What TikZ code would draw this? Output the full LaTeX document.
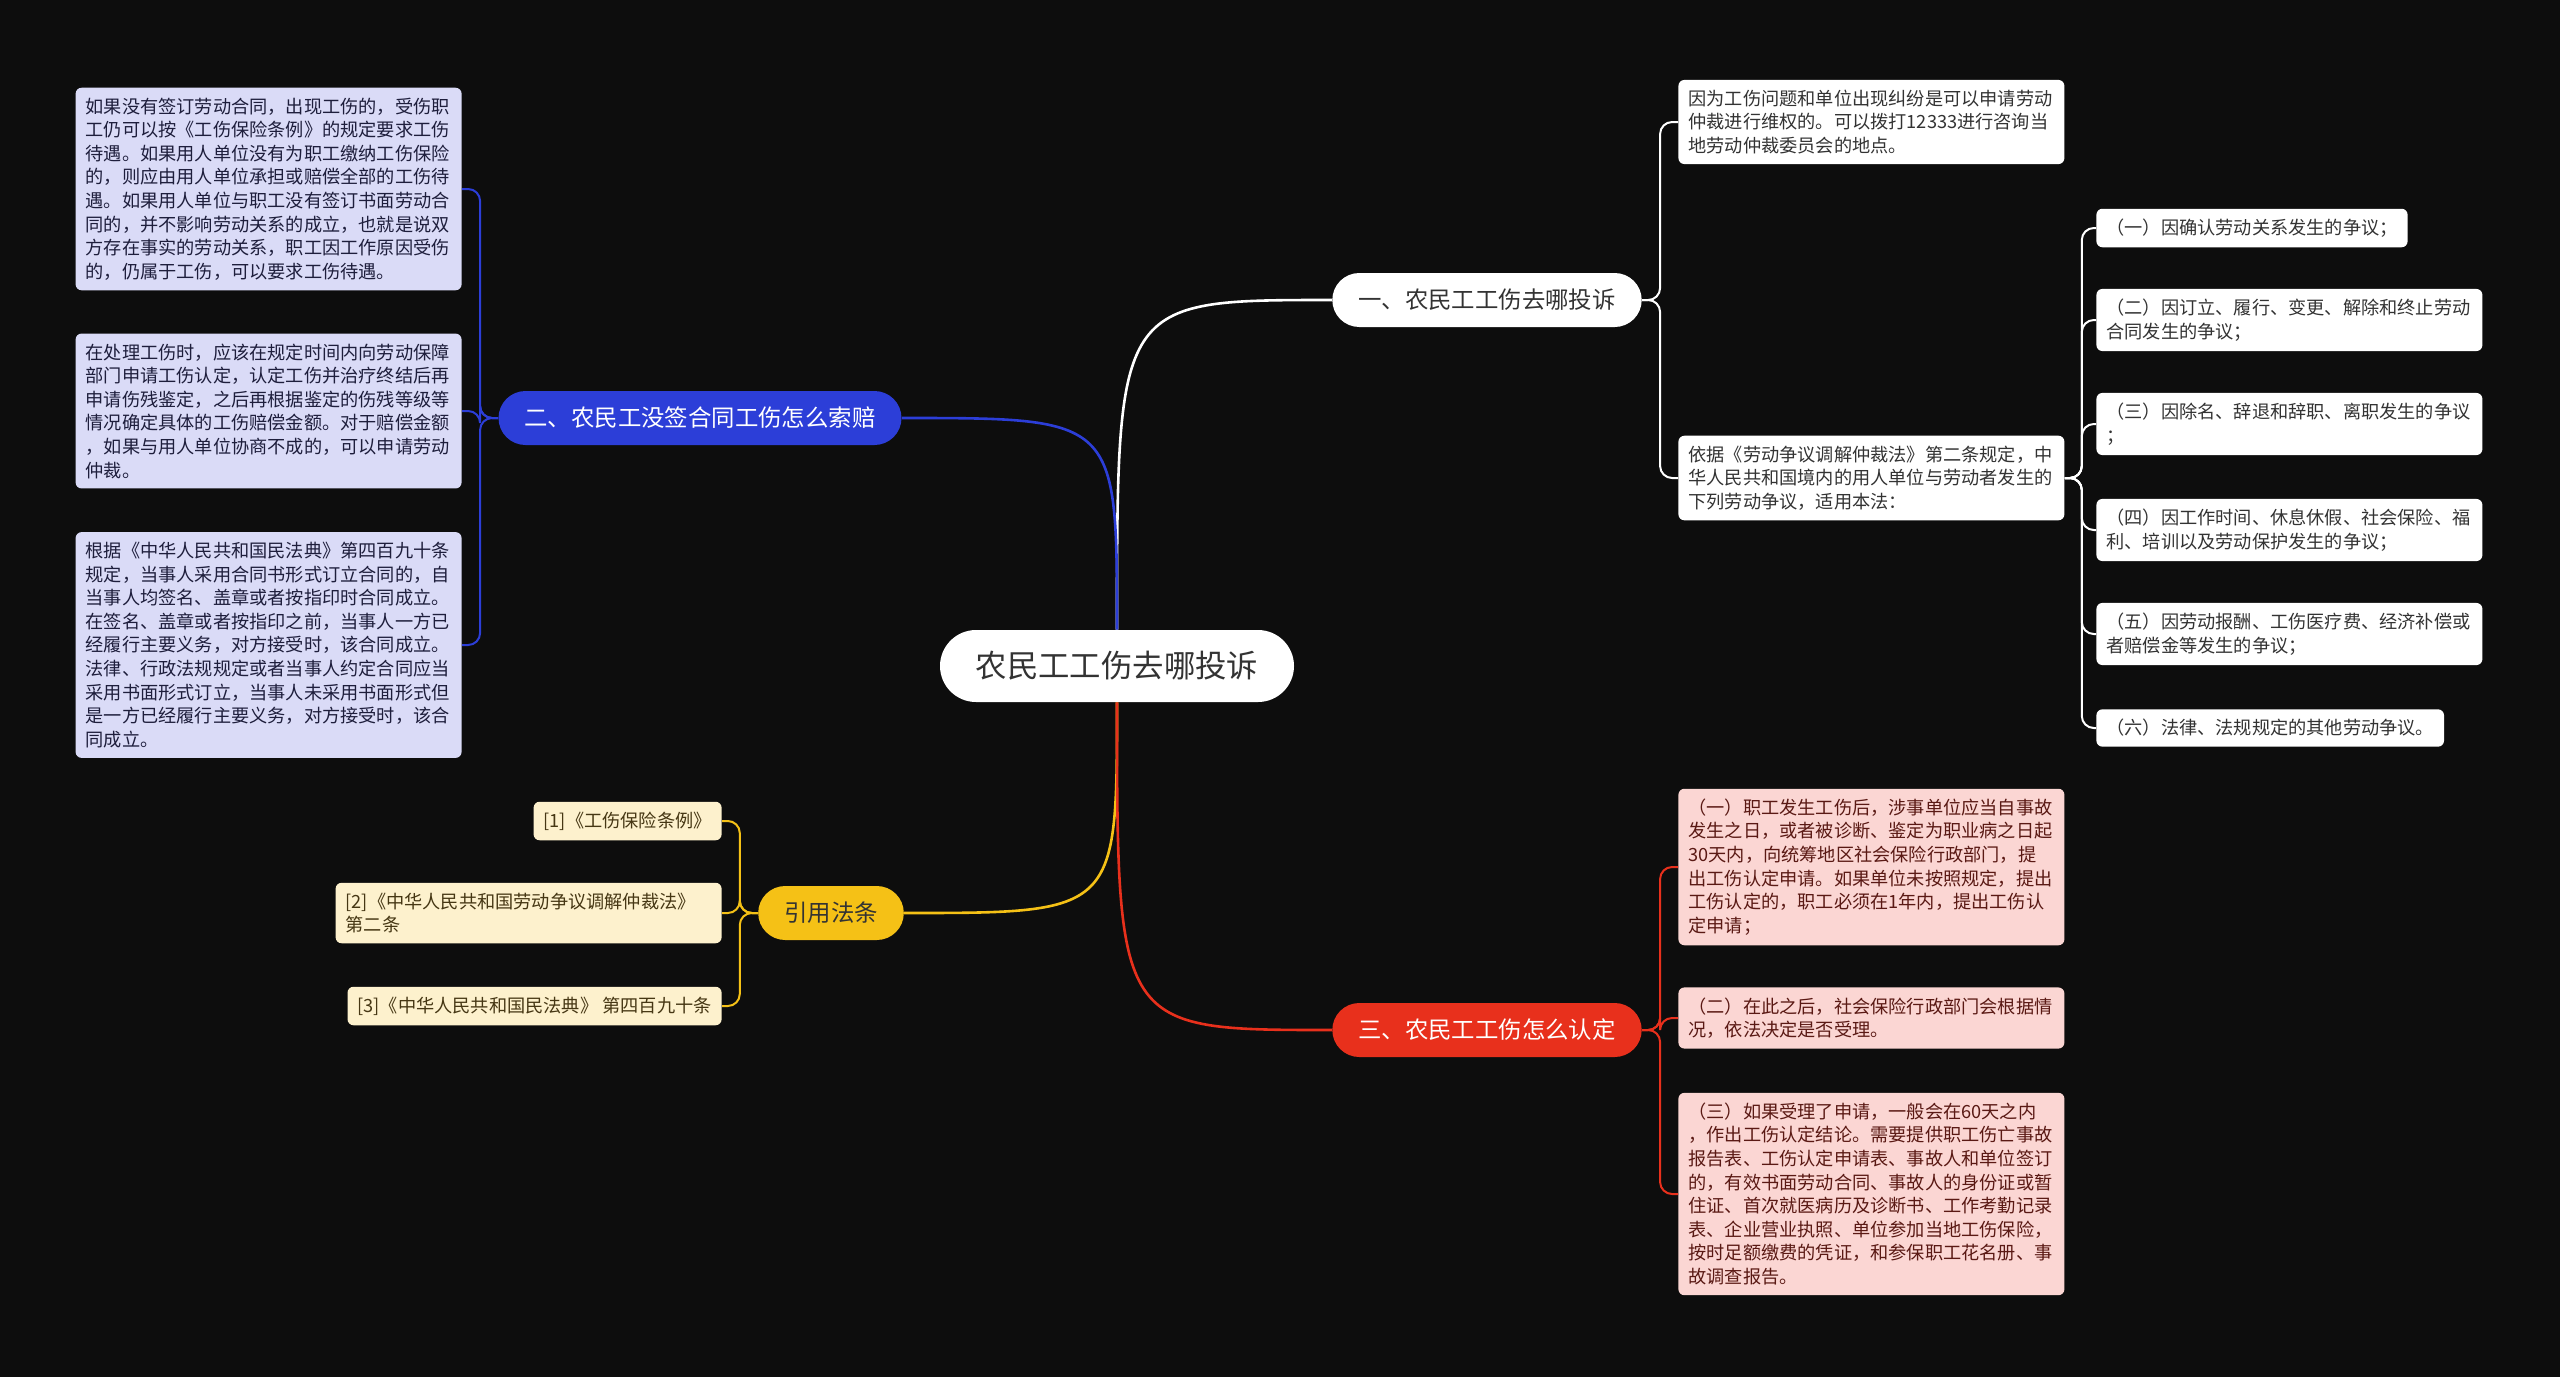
\documentclass[tikz,border=0pt]{standalone}
\usepackage{fontspec}
\setmainfont{Noto Sans CJK SC}
\usetikzlibrary{calc}
\definecolor{night}{RGB}{13,13,13}
\definecolor{royal}{RGB}{44,62,216}
\definecolor{flame}{RGB}{232,48,28}
\definecolor{amber}{RGB}{245,193,22}
\definecolor{lilac}{RGB}{218,219,247}
\definecolor{blush}{RGB}{251,214,211}
\definecolor{cream}{RGB}{253,241,205}
\definecolor{ink}{RGB}{51,51,51}
\definecolor{navyink}{RGB}{30,30,60}
\definecolor{rustink}{RGB}{90,25,20}
\definecolor{brownink}{RGB}{70,55,20}

\begin{document}
\begin{tikzpicture}[x=0.5pt,y=-0.5pt,
    wire/.style={line width=1pt,rounded corners=6pt},
    trunk/.style={line width=1.3pt},
    topic/.style={rounded corners=13.5pt,minimum height=27pt,inner xsep=13pt,inner ysep=0pt,font=\fontsize{11.7}{14}\selectfont},
    leaf/.style={rounded corners=3pt,inner xsep=5pt,inner ysep=5pt,align=left,font=\fontsize{9.1}{11.8}\selectfont},
    wide/.style={text width=183pt},
    snug/.style={}]
    \fill[night] (0,0) rectangle (2560,1377);
    \useasboundingbox (0,0) rectangle (2560,1377);

    % centre and main topics
    \node[fill=white,text=ink,rounded corners=18pt,minimum width=177pt,minimum height=36pt,font=\fontsize{15.7}{18}\selectfont] (root) at (1117,666) {农民工工伤去哪投诉};
    \node[topic,fill=white,text=ink] (b1) at (1487,300) {一、农民工工伤去哪投诉};
    \node[topic,fill=royal,text=white] (b2) at (700,418) {二、农民工没签合同工伤怎么索赔};
    \node[topic,fill=flame,text=white] (b3) at (1487,1030) {三、农民工工伤怎么认定};
    \node[topic,fill=amber,text=ink] (b4) at (831,913) {引用法条};

    \draw[trunk,white] (root.north) .. controls (root.north |- b1.west) .. (b1.west);
    \draw[trunk,royal] (root.north) .. controls (root.north |- b2.east) .. (b2.east);
    \draw[trunk,amber] (root.south) .. controls (root.south |- b4.east) .. (b4.east);
    \draw[trunk,flame] (root.south) .. controls (root.south |- b3.west) .. (b3.west);

    % topic one
    \node[leaf,wide,fill=white,text=ink,anchor=west] (l1a) at (1678,122) {因为工伤问题和单位出现纠纷是可以申请劳动\\仲裁进行维权的。可以拨打12333进行咨询当\\地劳动仲裁委员会的地点。};
    \node[leaf,wide,fill=white,text=ink,anchor=west] (l1b) at (1678,478) {依据《劳动争议调解仲裁法》第二条规定，中\\华人民共和国境内的用人单位与劳动者发生的\\下列劳动争议，适用本法：};
    \foreach \n in {l1a,l1b}
      \draw[wire,white] (b1.east) -- ++(9pt,0) |- (\n.west);

    \foreach \t/\y/\w [count=\i] in {
      {（一）因确认劳动关系发生的争议；}/228/snug,
      {（二）因订立、履行、变更、解除和终止劳动\\合同发生的争议；}/320/wide,
      {（三）因除名、辞退和辞职、离职发生的争议\\；}/424/wide,
      {（四）因工作时间、休息休假、社会保险、福\\利、培训以及劳动保护发生的争议；}/530/wide,
      {（五）因劳动报酬、工伤医疗费、经济补偿或\\者赔偿金等发生的争议；}/634/wide,
      {（六）法律、法规规定的其他劳动争议。}/728/snug}
    {
      \node[leaf,\w,fill=white,text=ink,anchor=west] (s\i) at (2096,\y) {\t};
      \draw[wire,white] (l1b.east) -- ++(8.5pt,0) |- (s\i.west);
    }

    % topic two
    \node[leaf,wide,fill=lilac,text=navyink,anchor=east] (l2a) at (462,189) {如果没有签订劳动合同，出现工伤的，受伤职\\工仍可以按《工伤保险条例》的规定要求工伤\\待遇。如果用人单位没有为职工缴纳工伤保险\\的，则应由用人单位承担或赔偿全部的工伤待\\遇。如果用人单位与职工没有签订书面劳动合\\同的，并不影响劳动关系的成立，也就是说双\\方存在事实的劳动关系，职工因工作原因受伤\\的，仍属于工伤，可以要求工伤待遇。};
    \node[leaf,wide,fill=lilac,text=navyink,anchor=east] (l2b) at (462,411) {在处理工伤时，应该在规定时间内向劳动保障\\部门申请工伤认定，认定工伤并治疗终结后再\\申请伤残鉴定，之后再根据鉴定的伤残等级等\\情况确定具体的工伤赔偿金额。对于赔偿金额\\，如果与用人单位协商不成的，可以申请劳动\\仲裁。};
    \node[leaf,wide,fill=lilac,text=navyink,anchor=east] (l2c) at (462,645) {根据《中华人民共和国民法典》第四百九十条\\规定，当事人采用合同书形式订立合同的，自\\当事人均签名、盖章或者按指印时合同成立。\\在签名、盖章或者按指印之前，当事人一方已\\经履行主要义务，对方接受时，该合同成立。\\法律、行政法规规定或者当事人约定合同应当\\采用书面形式订立，当事人未采用书面形式但\\是一方已经履行主要义务，对方接受时，该合\\同成立。};
    \foreach \n in {l2a,l2b,l2c}
      \draw[wire,royal] (b2.west) -- ++(-9pt,0) |- (\n.east);

    % topic three
    \node[leaf,wide,fill=blush,text=rustink,anchor=west] (l3a) at (1678,867) {（一）职工发生工伤后，涉事单位应当自事故\\发生之日，或者被诊断、鉴定为职业病之日起\\30天内，向统筹地区社会保险行政部门，提\\出工伤认定申请。如果单位未按照规定，提出\\工伤认定的，职工必须在1年内，提出工伤认\\定申请；};
    \node[leaf,wide,fill=blush,text=rustink,anchor=west] (l3b) at (1678,1018) {（二）在此之后，社会保险行政部门会根据情\\况，依法决定是否受理。};
    \node[leaf,wide,fill=blush,text=rustink,anchor=west] (l3c) at (1678,1194) {（三）如果受理了申请，一般会在60天之内\\，作出工伤认定结论。需要提供职工伤亡事故\\报告表、工伤认定申请表、事故人和单位签订\\的，有效书面劳动合同、事故人的身份证或暂\\住证、首次就医病历及诊断书、工作考勤记录\\表、企业营业执照、单位参加当地工伤保险，\\按时足额缴费的凭证，和参保职工花名册、事\\故调查报告。};
    \foreach \n in {l3a,l3b,l3c}
      \draw[wire,flame] (b3.east) -- ++(9pt,0) |- (\n.west);

    % cited laws
    \node[leaf,fill=cream,text=brownink,anchor=east] (r1) at (722,821) {[1]《工伤保险条例》};
    \node[leaf,wide,fill=cream,text=brownink,anchor=east] (r2) at (722,913) {[2]《中华人民共和国劳动争议调解仲裁法》\\第二条};
    \node[leaf,fill=cream,text=brownink,anchor=east] (r3) at (722,1006) {[3]《中华人民共和国民法典》 第四百九十条};
    \foreach \n in {r1,r2,r3}
      \draw[wire,amber] (b4.west) -- ++(-9pt,0) |- (\n.east);
  \end{tikzpicture}
\end{document}
